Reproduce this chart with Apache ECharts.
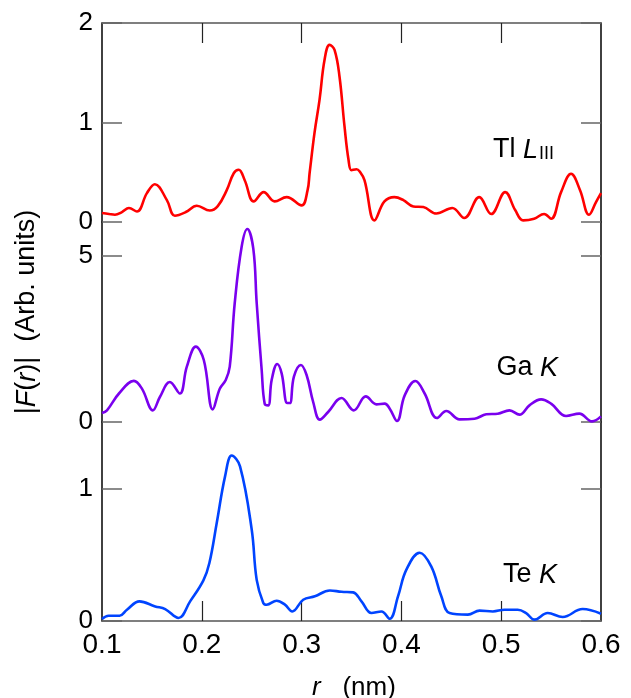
<!DOCTYPE html>
<html>
<head>
<meta charset="utf-8">
<script src="https://cdn.jsdelivr.net/npm/echarts@6/dist/echarts.min.js"></script>
<style>
  html, body { margin: 0; padding: 0; background: #fff; }
  #chart { width: 631px; height: 698px; }
</style>
</head>
<body>
<div id="chart"></div>
<script>
// Radial distance r (nm) and Fourier-transform magnitude |F(r)| for each edge
const tlR = [0.100, 0.107, 0.113, 0.120, 0.127, 0.135, 0.145, 0.153, 0.165, 0.173, 0.184, 0.195, 0.208, 0.216, 0.225, 0.232, 0.237, 0.243, 0.252, 0.262, 0.273, 0.285, 0.300, 0.306, 0.308, 0.313, 0.318, 0.323, 0.328, 0.333, 0.338, 0.343, 0.347, 0.350, 0.355, 0.358, 0.363, 0.373, 0.383, 0.393, 0.402, 0.412, 0.422, 0.435, 0.451, 0.463, 0.478, 0.490, 0.504, 0.514, 0.522, 0.533, 0.543, 0.550, 0.560, 0.570, 0.579, 0.588, 0.595, 0.600];
const tlF = [0.09, 0.08, 0.073, 0.10, 0.14, 0.106, 0.29, 0.38, 0.22, 0.063, 0.10, 0.163, 0.116, 0.16, 0.32, 0.49, 0.525, 0.42, 0.207, 0.30, 0.207, 0.25, 0.167, 0.32, 0.49, 0.90, 1.23, 1.63, 1.78, 1.73, 1.46, 0.96, 0.625, 0.52, 0.53, 0.51, 0.42, 0.016, 0.207, 0.25, 0.22, 0.156, 0.15, 0.085, 0.14, 0.04, 0.25, 0.08, 0.30, 0.12, 0.016, 0.033, 0.08, 0.033, 0.30, 0.485, 0.32, 0.073, 0.20, 0.29];

const gaR = [0.100, 0.105, 0.117, 0.132, 0.140, 0.151, 0.158, 0.168, 0.178, 0.185, 0.194, 0.202, 0.211, 0.218, 0.224, 0.228, 0.233, 0.240, 0.2456, 0.2516, 0.255, 0.260, 0.263, 0.2666, 0.270, 0.2756, 0.280, 0.2856, 0.2883, 0.2923, 0.2993, 0.305, 0.3116, 0.3183, 0.3266, 0.340, 0.3523, 0.3643, 0.375, 0.3833, 0.3883, 0.3956, 0.4033, 0.414, 0.4233, 0.4356, 0.445, 0.4583, 0.4733, 0.485, 0.4966, 0.5083, 0.5183, 0.5283, 0.540, 0.550, 0.565, 0.5783, 0.591, 0.600];
const gaF = [0.27, 0.35, 0.855, 1.235, 1.0, 0.35, 0.75, 1.2, 0.855, 1.66, 2.26, 1.86, 0.38, 1.0, 1.26, 1.66, 3.57, 5.27, 5.79, 5.2, 3.57, 1.56, 0.55, 0.5, 1.26, 1.74, 1.46, 0.57, 0.57, 1.36, 1.71, 1.41, 0.6, 0.07, 0.3, 0.72, 0.35, 0.77, 0.53, 0.55, 0.4, 0.03, 0.8, 1.23, 0.855, 0.12, 0.33, 0.08, 0.1, 0.23, 0.25, 0.35, 0.22, 0.5, 0.68, 0.55, 0.18, 0.25, 0.02, 0.17];

const teR = [0.100, 0.1066, 0.1176, 0.125, 0.1376, 0.1533, 0.1633, 0.1766, 0.1883, 0.2016, 0.2076, 0.215, 0.2233, 0.230, 0.2383, 0.250, 0.255, 0.2616, 0.265, 0.275, 0.2833, 0.2906, 0.3016, 0.3133, 0.3283, 0.340, 0.3516, 0.360, 0.370, 0.380, 0.3883, 0.3966, 0.405, 0.4183, 0.430, 0.440, 0.4483, 0.4666, 0.4783, 0.4916, 0.5033, 0.5166, 0.525, 0.5333, 0.5466, 0.5616, 0.5816, 0.600];
const teF = [0.015, 0.04, 0.04, 0.085, 0.148, 0.11, 0.09, 0.023, 0.148, 0.306, 0.437, 0.74, 1.09, 1.247, 1.166, 0.69, 0.31, 0.136, 0.123, 0.153, 0.123, 0.072, 0.16, 0.186, 0.23, 0.22, 0.216, 0.148, 0.06, 0.072, 0.017, 0.186, 0.387, 0.515, 0.41, 0.186, 0.06, 0.048, 0.078, 0.072, 0.085, 0.085, 0.06, 0.01, 0.06, 0.03, 0.09, 0.055];

// Axis ranges and tick values
const xMin = 0.1, xMax = 0.6;
const xTickValues = [0.2, 0.3, 0.4, 0.5];
const xLabelValues = [0.1, 0.2, 0.3, 0.4, 0.5, 0.6];
const yMax = [2, 6, 1.5];
const yTickValues = [[0, 1, 2], [0, 5], [0, 1]];

const zip = (a, b) => a.map((v, i) => [v, b[i]]);
const FONT = '"Liberation Sans", Arial, Helvetica, sans-serif';

// Three stacked panels sharing one r axis
const grids = [
  { left: 102, right: 30, top: 23, height: 199, outerBoundsMode: 'none', containLabel: false },
  { left: 102, right: 30, top: 222, height: 200, outerBoundsMode: 'none', containLabel: false },
  { left: 102, right: 30, top: 422, height: 199, outerBoundsMode: 'none', containLabel: false }
];

const frameDark = { show: true, onZero: false, lineStyle: { color: '#111', width: 1.6 } };
const frameGray = { show: true, onZero: false, lineStyle: { color: '#555', width: 1.5 } };

const xAxes = [
  {
    gridIndex: 0, type: 'value', position: 'top', min: xMin, max: xMax, interval: 0.1,
    axisLine: frameGray,
    axisTick: { show: true, inside: true, length: 20, customValues: xTickValues, lineStyle: { color: '#222', width: 1.2 } },
    axisLabel: { show: false }, splitLine: { show: false }
  },
  {
    gridIndex: 1, type: 'value', min: xMin, max: xMax, interval: 0.1, show: false
  },
  {
    gridIndex: 2, type: 'value', position: 'bottom', min: xMin, max: xMax, interval: 0.1,
    axisLine: frameGray,
    axisTick: { show: true, inside: true, length: 20, customValues: xTickValues, lineStyle: { color: '#222', width: 1.2 } },
    axisLabel: {
      show: true, customValues: xLabelValues, margin: 10,
      formatter: v => v.toFixed(1),
      fontFamily: FONT, fontSize: 28, color: '#000'
    },
    splitLine: { show: false }
  }
];

const yAxes = [];
[0, 1, 2].forEach(g => {
  yAxes.push({
    gridIndex: g, type: 'value', position: 'left', min: 0, max: yMax[g],
    axisLine: frameDark,
    axisTick: { show: true, inside: true, length: 20, customValues: yTickValues[g], lineStyle: { color: '#666', width: 1.5 } },
    axisLabel: {
      show: true, customValues: yTickValues[g], margin: 9,
      fontFamily: FONT, fontSize: 26, color: '#000'
    },
    splitLine: { show: false }
  });
  yAxes.push({
    gridIndex: g, type: 'value', position: 'right', min: 0, max: yMax[g],
    axisLine: frameDark,
    axisTick: { show: true, inside: true, length: 20, customValues: yTickValues[g], lineStyle: { color: '#666', width: 1.5 } },
    axisLabel: { show: false },
    splitLine: { show: false }
  });
});

const lineSeries = (data, g, color) => ({
  type: 'line', xAxisIndex: g, yAxisIndex: g * 2,
  data, showSymbol: false, smooth: 0.4, silent: true,
  lineStyle: { color, width: 2.6 }
});

const richText = (text, x, y, size, align, rotation) => ({
  type: 'text', x, y, rotation: rotation || 0,
  style: {
    text, x: 0, y: 0, align, verticalAlign: 'middle',
    fontFamily: FONT, fontSize: size, fill: '#000',
    rich: {
      i: { fontFamily: FONT, fontSize: size, fontStyle: 'italic', fill: '#000' },
      sub: { fontFamily: FONT, fontSize: 18, fill: '#000', verticalAlign: 'bottom', padding: [0, 0, 0, 1] }
    }
  }
});

const chart = echarts.init(document.getElementById('chart'), null, { renderer: 'canvas' });
chart.setOption({
  animation: false,
  backgroundColor: '#fff',
  grid: grids,
  xAxis: xAxes,
  yAxis: yAxes,
  series: [
    lineSeries(zip(tlR, tlF), 0, '#ff0000'),
    lineSeries(zip(gaR, gaF), 1, '#7a00ee'),
    lineSeries(zip(teR, teF), 2, '#0044ff')
  ],
  graphic: [
    richText('Tl {i|L}{sub|III}', 554, 150, 27, 'right'),
    richText('Ga {i|K}', 558, 368, 27, 'right'),
    richText('Te {i|K}', 557, 575, 27, 'right'),
    richText('{i|r}   (nm)', 354, 688, 26, 'center'),
    richText('|{i|F}({i|r})|  (Arb. units)', 27, 312, 27, 'center', Math.PI / 2)
  ]
});
</script>
</body>
</html>
